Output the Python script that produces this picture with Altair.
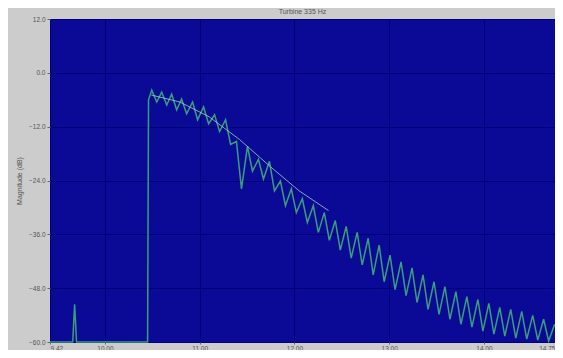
import altair as alt
import pandas as pd

# signal: time (s) and magnitude (dB)
t = [9.42, 9.66, 9.68, 9.70, 10.45, 10.46,
     10.494, 10.547, 10.599, 10.652, 10.704, 10.757, 10.809, 10.862, 10.925, 10.978,
     11.041, 11.094, 11.157, 11.210, 11.273, 11.326, 11.388, 11.441, 11.504, 11.557,
     11.620, 11.673, 11.736, 11.789, 11.852, 11.905, 11.967, 12.020, 12.083, 12.136,
     12.199, 12.252, 12.315, 12.368, 12.431, 12.484, 12.546, 12.599, 12.662, 12.715,
     12.778, 12.831, 12.894, 12.947, 13.009, 13.062, 13.125, 13.178, 13.241, 13.294,
     13.357, 13.410, 13.473, 13.526, 13.588, 13.641, 13.704, 13.757, 13.820, 13.873,
     13.936, 13.989, 14.052, 14.105, 14.167, 14.220, 14.283, 14.336, 14.399, 14.452,
     14.515, 14.568, 14.630, 14.683, 14.746]
db = [-60.0, -60.0, -51.6, -60.0, -60.0, -6.0,
      -3.85, -6.50, -4.29, -7.16, -4.73, -8.26, -5.83, -9.14, -6.50, -10.46,
      -7.60, -11.34, -9.36, -13.10, -10.46, -15.96, -15.30, -25.87, -16.40, -21.91,
      -19.27, -23.67, -19.71, -26.31, -24.11, -29.61, -25.87, -31.16, -28.07, -33.36,
      -29.61, -35.56, -31.16, -37.32, -32.92, -39.52, -34.24, -41.28, -35.56, -42.82,
      -36.88, -45.03, -38.42, -46.57, -40.62, -48.33, -42.16, -49.65, -43.49, -51.19,
      -45.03, -52.73, -46.57, -53.83, -47.67, -54.93, -48.77, -56.04, -49.87, -56.70,
      -50.53, -57.58, -51.41, -58.24, -52.29, -58.68, -52.73, -59.12, -53.17, -59.34,
      -54.05, -59.56, -54.93, -59.78, -56.04]

# smooth trend line
trend_t = [10.49, 10.79, 11.10, 11.42, 11.74, 12.05, 12.36]
trend_db = [-4.95, -6.50, -9.80, -14.86, -20.81, -26.31, -30.71]

x_ticks = [9.42, 10.0, 11.0, 12.0, 13.0, 14.0, 14.75]
y_ticks = [12.0, 0.0, -12.0, -24.0, -36.0, -48.0, -60.0]

sig = pd.DataFrame({"t": t, "db": db})
trend = pd.DataFrame({"t": trend_t, "db": trend_db})

xs = alt.Scale(domain=[9.42, 14.75], nice=False, zero=False)
ys = alt.Scale(domain=[-60, 12], nice=False, zero=False)

x_axis = alt.Axis(values=x_ticks, format=".2f", title=None, labelFontSize=6.5,
                  labelColor="#555555", grid=True, gridColor="#000078", gridWidth=1,
                  domain=False, tickColor="#666666", tickSize=2, labelPadding=1,
                  labelFlush=True)
y_axis = alt.Axis(values=y_ticks, format=".1f", title="Magnitude (dB)", titleFontSize=7,
                  titleFontWeight="normal", titleColor="#555555", labelFontSize=6.5,
                  labelColor="#555555", grid=True, gridColor="#000078", gridWidth=1,
                  domain=False, tickColor="#666666", tickSize=3, labelPadding=2,
                  titlePadding=6)

line = alt.Chart(sig).mark_line(color="#3a9f78", strokeWidth=1.5).encode(
    x=alt.X("t:Q", scale=xs, axis=x_axis),
    y=alt.Y("db:Q", scale=ys, axis=y_axis),
    order="t:Q",
)
tr = alt.Chart(trend).mark_line(color="#9fd0c0", strokeWidth=1, opacity=0.8).encode(
    x=alt.X("t:Q", scale=xs),
    y=alt.Y("db:Q", scale=ys),
)

chart = (line + tr).properties(
    width=505, height=323,
    title=alt.TitleParams("Turbine 335 Hz", fontSize=7, fontWeight="normal",
                          color="#555555", offset=1),
    padding={"left": 42, "top": 11, "right": 0, "bottom": 8},
    autosize=alt.AutoSizeParams(type="none"),
    background="#cccccc",
).configure_view(fill="#0a0a96", stroke="#7a7ae0", strokeWidth=1)

chart.save("out.html", embed_options={"renderer": "svg", "actions": False})
